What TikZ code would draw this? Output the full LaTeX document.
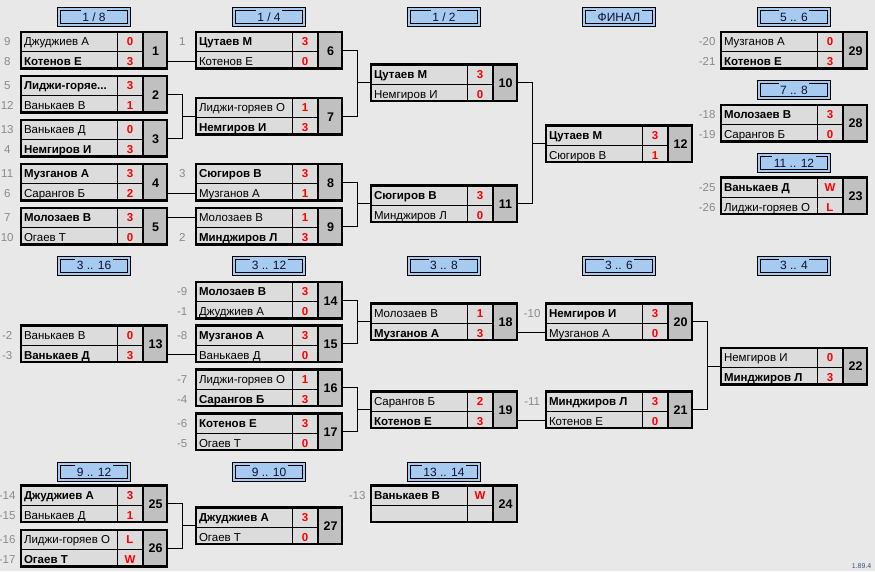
\documentclass[tikz,border=0pt]{standalone}
\usepackage{fontspec}
\setmainfont{Liberation Sans}
\usetikzlibrary{calc}
\definecolor{bggray}{HTML}{E8E8E8}
\definecolor{cellgray}{HTML}{DCDCDC}
\definecolor{numgray}{HTML}{C0C0C0}
\definecolor{hdrblue}{HTML}{A6CAF0}
\definecolor{seedgray}{HTML}{8A8A8A}
\definecolor{scorered}{HTML}{FF0000}
\definecolor{hdrtxt}{HTML}{101030}
\definecolor{vercol}{HTML}{3C5078}
\tikzset{
  mframe/.style={draw=black, line width=2.6pt, minimum width=146pt, minimum height=36.5pt, inner sep=0pt, outer sep=0pt},
  thinl/.style={draw=black, line width=0.9pt},
  thickl/.style={draw=black, line width=2.6pt},
  nm/.style={inner sep=0pt, outer sep=0pt, font=\fontsize{11.5}{13}\selectfont, text=black},
  sc/.style={inner sep=0pt, outer sep=0pt, font=\bfseries\fontsize{11.5}{13}\selectfont, text=scorered},
  numtxt/.style={inner sep=0pt, outer sep=0pt, font=\bfseries\fontsize{12.5}{14}\selectfont, text height=9pt, text depth=0pt},
  seed/.style={inner sep=0pt, outer sep=0pt, font=\fontsize{11.5}{13}\selectfont, text=seedgray},
  conn/.style={draw=black, line width=1pt},
  hframe/.style={draw=black, line width=1pt, double=hdrblue, double distance=2pt, fill=hdrblue, minimum width=70pt, minimum height=16pt, inner sep=0pt, outer sep=0pt},
  htext/.style={fill=hdrblue, inner xsep=1.5pt, inner ysep=0pt, text height=11.5pt, text depth=1pt, font=\fontsize{12}{14}\selectfont, text=hdrtxt},
}
% match box: id, x (outer left), y (outer top), name1, score1, name2, score2, number
\newcommand\mbx[8]{%
  \fill[cellgray] ({#2+1.5},{#3+1.5}) rectangle ({#2+123.5},{#3+38});
  \fill[numgray] ({#2+123.5},{#3+1.5}) rectangle ({#2+147.5},{#3+38});
  \draw[thinl] ({#2+1.5},{#3+21}) -- ({#2+123.5},{#3+21});
  \draw[thinl] ({#2+98},{#3+1.5}) -- ({#2+98},{#3+38});
  \node[mframe, anchor=north west] (#1) at ({#2+1.5},{#3+1.5}) {};
  \draw[thickl] ({#2+123.5},{#3+1.5}) -- ({#2+123.5},{#3+38});
  \coordinate (#1r1) at ({#2},{#3+10.5});
  \coordinate (#1r2) at ({#2},{#3+30.5});
  \node[nm, anchor=base west] (#1a) at ({#2+4.5},{#3+15.2}) {#4};
  \node[nm, anchor=base west] (#1b) at ({#2+4.5},{#3+35.2}) {#6};
  \node[sc, anchor=base] (#1c) at ({#2+110.5},{#3+15.2}) {#5};
  \node[sc, anchor=base] (#1d) at ({#2+110.5},{#3+35.2}) {#7};
  \node[numtxt] (#1n) at ({#2+136},{#3+20}) {#8};
}
\newcommand\seedA[4]{\node[seed, anchor=base] (#1) at ({#2-12.3},{#3+15.2}) {#4};}
\newcommand\seedB[4]{\node[seed, anchor=base] (#1) at ({#2-12.3},{#3+35.2}) {#4};}
\newcommand\hdr[4]{%
  \node[hframe] (#1) at (#2,#3) {};
  \node[htext, anchor=base] (#1t) at (#2,{#3+4.3}) {#4};
}
\newcommand\brk[4]{%
  \coordinate (#3in) at (#4,0);
  \draw[conn] (#1.east) -| (#3in |- #3.west) |- (#2.east);
  \draw[conn] (#3in |- #3.west) -- (#3.west);
}
\begin{document}
\begin{tikzpicture}[x=1pt,y=-1pt]
\useasboundingbox (0,0) rectangle (875,571);
\fill[bggray] (0,0) rectangle (875,571);

% headers
\hdr{h1}{94}{17}{1 / 8}
\hdr{h2}{269}{17}{1 / 4}
\hdr{h3}{444}{17}{1 / 2}
\hdr{h4}{619}{17}{ФИНАЛ}
\hdr{h5}{794}{17}{5 .. 6}
\hdr{h6}{794}{89.7}{7 .. 8}
\hdr{h7}{794}{163}{11 .. 12}
\hdr{h8}{94}{265.6}{3 .. 16}
\hdr{h9}{269}{265.6}{3 .. 12}
\hdr{h10}{444}{265.6}{3 .. 8}
\hdr{h11}{619}{265.6}{3 .. 6}
\hdr{h12}{794}{265.6}{3 .. 4}
\hdr{h13}{94}{471.7}{9 .. 12}
\hdr{h14}{269}{471.7}{9 .. 10}
\hdr{h15}{444}{471.7}{13 .. 14}

% section 1
\mbx{m1}{19.5}{30.5}{Джуджиев А}{0}{\textbf{Котенов Е}}{3}{1}
\mbx{m2}{19.5}{74.5}{\textbf{Лиджи-горяе...}}{3}{Ванькаев В}{1}{2}
\mbx{m3}{19.5}{118.5}{Ванькаев Д}{0}{\textbf{Немгиров И}}{3}{3}
\mbx{m4}{19.5}{162.5}{\textbf{Музганов А}}{3}{Сарангов Б}{2}{4}
\mbx{m5}{19.5}{206.5}{\textbf{Молозаев В}}{3}{Огаев Т}{0}{5}
\mbx{m6}{194.5}{30.5}{\textbf{Цутаев М}}{3}{Котенов Е}{0}{6}
\mbx{m7}{194.5}{96.5}{Лиджи-горяев О}{1}{\textbf{Немгиров И}}{3}{7}
\mbx{m8}{194.5}{162.5}{\textbf{Сюгиров В}}{3}{Музганов А}{1}{8}
\mbx{m9}{194.5}{206.5}{Молозаев В}{1}{\textbf{Минджиров Л}}{3}{9}
\mbx{m10}{369.5}{63}{\textbf{Цутаев М}}{3}{Немгиров И}{0}{10}
\mbx{m11}{369.5}{184}{\textbf{Сюгиров В}}{3}{Минджиров Л}{0}{11}
\mbx{m12}{544.5}{124}{\textbf{Цутаев М}}{3}{Сюгиров В}{1}{12}
\mbx{m29}{719.5}{30.5}{Музганов А}{0}{\textbf{Котенов Е}}{3}{29}
\mbx{m28}{719.5}{103.3}{\textbf{Молозаев В}}{3}{Сарангов Б}{0}{28}
\mbx{m23}{719.5}{176}{\textbf{Ванькаев Д}}{W}{Лиджи-горяев О}{L}{23}

% section 2
\mbx{m13}{19.5}{324}{Ванькаев В}{0}{\textbf{Ванькаев Д}}{3}{13}
\mbx{m14}{194.5}{280.5}{\textbf{Молозаев В}}{3}{Джуджиев А}{0}{14}
\mbx{m15}{194.5}{324}{\textbf{Музганов А}}{3}{Ванькаев Д}{0}{15}
\mbx{m16}{194.5}{368}{Лиджи-горяев О}{1}{\textbf{Сарангов Б}}{3}{16}
\mbx{m17}{194.5}{412}{\textbf{Котенов Е}}{3}{Огаев Т}{0}{17}
\mbx{m18}{369.5}{302}{Молозаев В}{1}{\textbf{Музганов А}}{3}{18}
\mbx{m19}{369.5}{390}{Сарангов Б}{2}{\textbf{Котенов Е}}{3}{19}
\mbx{m20}{544.5}{302}{\textbf{Немгиров И}}{3}{Музганов А}{0}{20}
\mbx{m21}{544.5}{390}{\textbf{Минджиров Л}}{3}{Котенов Е}{0}{21}
\mbx{m22}{719.5}{346.3}{Немгиров И}{0}{\textbf{Минджиров Л}}{3}{22}

% section 3
\mbx{m25}{19.5}{484}{\textbf{Джуджиев А}}{3}{Ванькаев Д}{1}{25}
\mbx{m26}{19.5}{528.3}{Лиджи-горяев О}{L}{\textbf{Огаев Т}}{W}{26}
\mbx{m27}{194.5}{506}{\textbf{Джуджиев А}}{3}{Огаев Т}{0}{27}
\mbx{m24}{369.5}{484}{\textbf{Ванькаев В}}{W}{}{}{24}

% seeds
\seedA{s1a}{19.5}{30.5}{9}\seedB{s1b}{19.5}{30.5}{8}
\seedA{s2a}{19.5}{74.5}{5}\seedB{s2b}{19.5}{74.5}{12}
\seedA{s3a}{19.5}{118.5}{13}\seedB{s3b}{19.5}{118.5}{4}
\seedA{s4a}{19.5}{162.5}{11}\seedB{s4b}{19.5}{162.5}{6}
\seedA{s5a}{19.5}{206.5}{7}\seedB{s5b}{19.5}{206.5}{10}
\seedA{s6a}{194.5}{30.5}{1}
\seedA{s8a}{194.5}{162.5}{3}
\seedB{s9b}{194.5}{206.5}{2}
\seedA{s29a}{719.5}{30.5}{-20}\seedB{s29b}{719.5}{30.5}{-21}
\seedA{s28a}{719.5}{103.3}{-18}\seedB{s28b}{719.5}{103.3}{-19}
\seedA{s23a}{719.5}{176}{-25}\seedB{s23b}{719.5}{176}{-26}
\seedA{s13a}{19.5}{324}{-2}\seedB{s13b}{19.5}{324}{-3}
\seedA{s14a}{194.5}{280.5}{-9}\seedB{s14b}{194.5}{280.5}{-1}
\seedA{s15a}{194.5}{324}{-8}
\seedA{s16a}{194.5}{368}{-7}\seedB{s16b}{194.5}{368}{-4}
\seedA{s17a}{194.5}{412}{-6}\seedB{s17b}{194.5}{412}{-5}
\seedA{s20a}{544.5}{302}{-10}
\seedA{s21a}{544.5}{390}{-11}
\seedA{s25a}{19.5}{484}{-14}\seedB{s25b}{19.5}{484}{-15}
\seedA{s26a}{19.5}{528.3}{-16}\seedB{s26b}{19.5}{528.3}{-17}
\seedA{s24a}{369.5}{484}{-13}

% connectors
\draw[conn] (m1.east |- m6r2) -- (m6.west |- m6r2);
\brk{m2}{m3}{m7}{182.5}
\draw[conn] (m4.east |- m8r2) -- (m8.west |- m8r2);
\draw[conn] (m5.east |- m9r1) -- (m9.west |- m9r1);
\brk{m6}{m7}{m10}{357.5}
\brk{m8}{m9}{m11}{357.5}
\brk{m10}{m11}{m12}{532.5}
\draw[conn] (m13.east |- m15r2) -- (m15.west |- m15r2);
\brk{m14}{m15}{m18}{357.5}
\brk{m16}{m17}{m19}{357.5}
\draw[conn] (m18.east |- m20r2) -- (m20.west |- m20r2);
\draw[conn] (m19.east |- m21r2) -- (m21.west |- m21r2);
\brk{m20}{m21}{m22}{707.5}
\brk{m25}{m26}{m27}{182.5}

\node[anchor=base east, inner sep=0pt, font=\fontsize{7}{8}\selectfont, text=vercol] (ver) at (871.5,568.5) {1.89.4};
\end{tikzpicture}
\end{document}
